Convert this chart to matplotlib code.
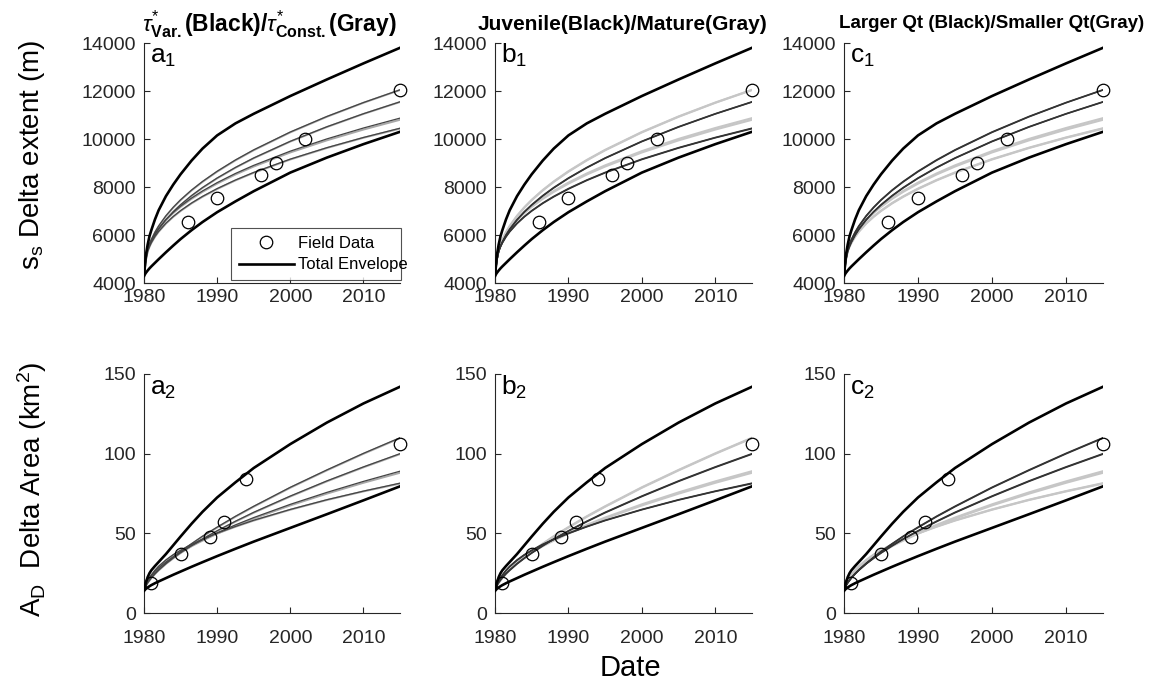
import matplotlib
matplotlib.use("Agg")
import matplotlib.pyplot as plt
from matplotlib.lines import Line2D

plt.rcParams['font.family'] = ['Liberation Sans', 'DejaVu Sans']
plt.rcParams['mathtext.fontset'] = 'custom'
plt.rcParams['mathtext.rm'] = 'Liberation Sans'
plt.rcParams['mathtext.it'] = 'Liberation Sans:italic'
plt.rcParams['mathtext.bf'] = 'Liberation Sans:bold'

# ---------------- data ----------------
YEARS = [1980, 1980.25, 1980.5, 1980.75, 1981, 1981.5, 1982, 1983, 1984, 1985,
         1986.5, 1988, 1990, 1992.5, 1995, 2000, 2005, 2010, 2015]

# shoreline extent s_s (m)
s_env_hi = [4300, 5150, 5600, 5950, 6200, 6650, 7030, 7620, 8100, 8530,
            9100, 9600, 10150, 10650, 11050, 11790, 12480, 13150, 13800]
s_env_lo = [4300, 4420, 4520, 4610, 4690, 4840, 4990, 5280, 5560, 5830,
            6200, 6540, 6950, 7400, 7825, 8600, 9225, 9785, 10300]
s_mature_large_var = [4300, 5000, 5398, 5623, 5810, 6120, 6377, 6803, 7157, 7467,
                      7873, 8231, 8656, 9127, 9548, 10292, 10939, 11519, 12050]
s_mature_large_const = [4300, 4990, 5385, 5610, 5795, 6105, 6360, 6785, 7140, 7450,
                        7855, 8212, 8637, 9108, 9530, 10275, 10925, 11508, 12040]
s_juvenile_large_var = [4300, 4950, 5327, 5538, 5713, 6002, 6243, 6642, 6973, 7262,
                        7642, 7977, 8375, 8815, 9210, 9905, 10510, 11053, 11550]
s_juvenile_large_const = [4300, 4940, 5315, 5525, 5700, 5988, 6228, 6626, 6957, 7246,
                          7626, 7961, 8359, 8800, 9196, 9892, 10498, 11043, 11540]
s_mature_small_var = [4300, 5000, 5403, 5608, 5776, 6050, 6275, 6642, 6942, 7201,
                      7540, 7835, 8182, 8564, 8902, 9494, 10004, 10458, 10870]
s_mature_small_const = [4300, 4990, 5391, 5594, 5761, 6031, 6254, 6617, 6914, 7170,
                        7505, 7797, 8141, 8519, 8853, 9439, 9943, 10392, 10800]
s_juvenile_small_var = [4300, 4950, 5333, 5524, 5682, 5938, 6149, 6492, 6773, 7016,
                        7333, 7609, 7934, 8291, 8608, 9162, 9639, 10064, 10450]
s_juvenile_small_const = [4300, 4940, 5320, 5510, 5667, 5922, 6132, 6474, 6755, 6998,
                          7315, 7590, 7915, 8273, 8590, 9145, 9624, 10050, 10430]

s_field_years = [1986, 1990, 1996, 1998, 2002, 2015]
s_field = [6550, 7550, 8480, 8980, 9980, 12030]

# delta area A_D (km^2)
a_env_hi = [14, 19, 22.5, 25, 26.8, 29.5, 32, 37, 42.5, 48,
            56, 63.5, 72.5, 82, 91, 106, 119.5, 131.5, 142]
a_env_lo = [14, 15.1, 16.0, 16.8, 17.5, 18.7, 19.8, 21.9, 24.0, 26.0,
            29.0, 31.9, 35.7, 40.3, 44.8, 53.4, 62.0, 70.7, 79.5]
a_mature_large_var = [14, 17.0, 18.9, 20.5, 22.0, 24.6, 27.0, 31.2, 35.0, 38.6,
                      43.5, 48.2, 53.9, 60.7, 67.0, 78.9, 89.8, 100.2, 110]
a_mature_large_const = [14, 16.9, 18.8, 20.4, 21.9, 24.5, 26.8, 31.0, 34.8, 38.4,
                        43.3, 48.0, 53.6, 60.4, 66.7, 78.6, 89.5, 99.9, 109.7]
a_juvenile_large_var = [14, 17.3, 19.2, 20.8, 22.2, 24.8, 27.0, 31.0, 34.5, 37.8,
                        42.3, 46.5, 51.6, 57.6, 63.2, 73.4, 82.9, 91.7, 100]
a_juvenile_large_const = [14, 17.2, 19.1, 20.7, 22.1, 24.6, 26.8, 30.8, 34.3, 37.6,
                          42.1, 46.3, 51.4, 57.3, 62.9, 73.1, 82.6, 91.4, 99.7]
a_mature_small_var = [14, 18.3, 20.4, 22.1, 23.5, 26.1, 28.3, 32.0, 35.3, 38.3,
                      42.3, 45.9, 50.3, 55.3, 59.9, 68.2, 75.7, 82.6, 89]
a_mature_small_const = [14, 18.2, 20.3, 22.0, 23.4, 25.9, 28.1, 31.8, 35.0, 37.9,
                        41.9, 45.4, 49.8, 54.7, 59.3, 67.5, 74.9, 81.7, 88]
a_juvenile_small_var = [14, 17.5, 20.0, 22.0, 23.8, 26.8, 29.3, 33.3, 36.6, 39.4,
                        43.1, 46.3, 50.1, 54.3, 58.2, 65.0, 71.1, 76.5, 81.5]
a_juvenile_small_const = [14, 17.4, 19.9, 21.9, 23.6, 26.6, 29.1, 33.1, 36.4, 39.2,
                          42.9, 46.1, 49.9, 54.1, 58.0, 64.8, 70.9, 76.3, 81.2]

a_field_years = [1981, 1985, 1989, 1991, 1994, 2015]
a_field = [19, 37, 48, 57, 84, 106]

TITLES = [r'$\tau^{*}_{\mathbf{Var.}}$(Black)/$\tau^{*}_{\mathbf{Const.}}$(Gray)',
          'Juvenile(Black)/Mature(Gray)',
          'Larger Qt (Black)/Smaller Qt(Gray)']
LETTERS = ['a', 'b', 'c']

# ---------------- styling ----------------
AX_COL = '#262626'
DARK = '#333333'
LIGHT = '#c6c6c6'

W, H = 1151, 685
fig = plt.figure(figsize=(W / 100, H / 100), dpi=100)

cols_px = [(144, 400), (495, 752), (844, 1103)]
rows_px = [(43, 283), (374, 613)]


def add_axes(col, row):
    x0, x1 = cols_px[col]
    y0, y1 = rows_px[row]
    return fig.add_axes([x0 / W, 1 - y1 / H, (x1 - x0) / W, (y1 - y0) / H])


def style(ax, ylim, yticks, xpad):
    ax.set_xlim(1980, 2015)
    ax.set_ylim(*ylim)
    ax.set_xticks([1980, 1990, 2000, 2010])
    ax.set_yticks(yticks)
    for s in ['top', 'right']:
        ax.spines[s].set_visible(False)
    for s in ['left', 'bottom']:
        ax.spines[s].set_color(AX_COL)
        ax.spines[s].set_linewidth(0.8)
    ax.tick_params(direction='in', length=4, width=0.8, colors=AX_COL,
                   labelsize=14, labelcolor=AX_COL)
    ax.tick_params(axis='y', pad=6)
    ax.tick_params(axis='x', pad=xpad)


top_runs = {
    'ml': (s_mature_large_var, s_mature_large_const),
    'jl': (s_juvenile_large_var, s_juvenile_large_const),
    'ms': (s_mature_small_var, s_mature_small_const),
    'js': (s_juvenile_small_var, s_juvenile_small_const),
}
bot_runs = {
    'ml': (a_mature_large_var, a_mature_large_const),
    'jl': (a_juvenile_large_var, a_juvenile_large_const),
    'ms': (a_mature_small_var, a_mature_small_const),
    'js': (a_juvenile_small_var, a_juvenile_small_const),
}

# runs drawn in black for the juvenile/mature and larger/smaller Qt panels
black_sets = [None, {'jl', 'js'}, {'ml', 'jl'}]

for row, (runs, env_hi, env_lo, fy, fv) in enumerate([
        (top_runs, s_env_hi, s_env_lo, s_field_years, s_field),
        (bot_runs, a_env_hi, a_env_lo, a_field_years, a_field)]):
    for col in range(3):
        ax = add_axes(col, row)
        if col == 0:
            for key, (var, const) in runs.items():
                ax.plot(YEARS, const, color='#a8a8a8', lw=1.4, zorder=2)
            for key, (var, const) in runs.items():
                ax.plot(YEARS, var, color='#444444', lw=0.9, zorder=3)
        else:
            blacks = black_sets[col]
            for key, (var, const) in runs.items():
                if key not in blacks:
                    ax.plot(YEARS, var, color=LIGHT, lw=1.5, zorder=2)
                    ax.plot(YEARS, const, color=LIGHT, lw=1.5, zorder=2)
            for key, (var, const) in runs.items():
                if key in blacks:
                    ax.plot(YEARS, var, color=DARK, lw=1.1, zorder=3)
                    ax.plot(YEARS, const, color=DARK, lw=1.1, zorder=3)
        ax.plot(YEARS, env_hi, color='black', lw=1.9, zorder=4)
        ax.plot(YEARS, env_lo, color='black', lw=1.9, zorder=4)
        ax.plot(fy, fv, linestyle='none', marker='o', ms=9, mfc='none',
                mec='black', mew=0.9, zorder=5, clip_on=False)
        if row == 0:
            style(ax, (4000, 14000), [4000, 6000, 8000, 10000, 12000, 14000], 4)
            ax.text(0.023, 0.917, LETTERS[col] + r'$_1$', transform=ax.transAxes,
                    fontsize=19, va='baseline', ha='left')
        else:
            style(ax, (0, 150), [0, 50, 100, 150], 12)
            ax.text(0.025, 0.912, LETTERS[col] + r'$_2$', transform=ax.transAxes,
                    fontsize=19, va='baseline', ha='left')
        if row == 0 and col == 0:
            handles = [Line2D([], [], linestyle='none', marker='o', ms=9, mfc='none',
                              mec='black', mew=0.9),
                       Line2D([], [], color='black', lw=1.9)]
            leg = ax.legend(handles, ['Field Data', 'Total Envelope'],
                            loc='lower left', bbox_to_anchor=(0.34, 0.0125, 0.664, 0.23),
                            mode='expand', fontsize=12, frameon=True, fancybox=False,
                            edgecolor=AX_COL, handlelength=3.3, handletextpad=0.25,
                            labelspacing=0.4, borderpad=0.45, borderaxespad=0)
            leg.get_frame().set_linewidth(0.8)

# column titles
for cx, t, fs in zip([269, 622, 992], TITLES, [16.5, 15, 13.5]):
    fig.text(cx / W, 1 - 24 / H, t, ha='center', va='center', fontsize=fs,
             fontweight='bold')

# axis labels
fig.text(32 / W, 1 - 155 / H, r'$\mathrm{s_s}$ Delta extent (m)', rotation=90,
         ha='center', va='center', fontsize=20)
fig.text(32 / W, 1 - 489 / H, r'$\mathrm{A_D}$  Delta Area (km$^2$)', rotation=90,
         ha='center', va='center', fontsize=20)
fig.text(630 / W, 1 - 668 / H, 'Date', ha='center', va='center', fontsize=21)

fig.savefig('out.png', dpi=100)
